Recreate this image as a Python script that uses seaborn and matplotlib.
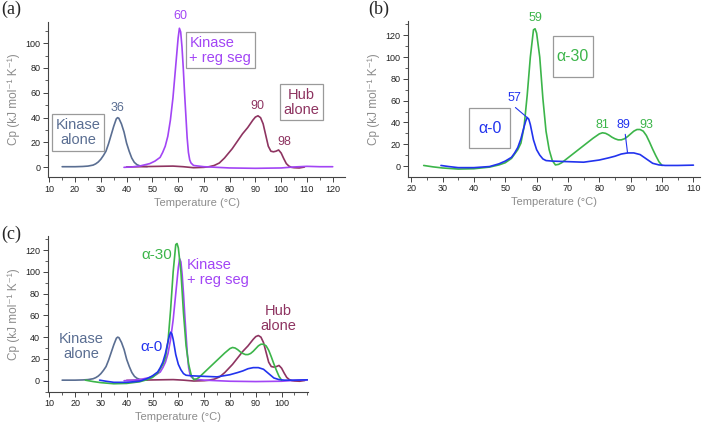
"""
DSC thermograms: kinase / hub constructs, three panels.
"""
import matplotlib
matplotlib.use("Agg")
import matplotlib.pyplot as plt
import matplotlib.patches as mpatches
from matplotlib.ticker import MultipleLocator
import numpy as np
import seaborn as sns

# ── data ────────────────────────────────────────────────────────────────────
kinase_t = [15, 20, 23, 25, 27, 28, 29, 30, 31, 32, 33, 34, 35, 36, 36.5, 37,
            38, 39, 40, 41, 42, 43, 44, 45, 46, 48]
kinase_cp = [0.5, 0.5, 0.7, 1.0, 1.8, 2.8, 4.3, 6.5, 9.5, 13, 19, 26, 33, 39,
             40, 39.5, 35, 28.5, 19.5, 13, 7.5, 4, 2.2, 1.3, 0.9, 0.6]

regseg_t = [39, 42, 45, 47, 49, 51, 53, 54, 55, 56, 57, 58, 59, 60, 60.5, 61,
            61.5, 62, 62.5, 63, 63.5, 64, 64.5, 65, 66, 68, 70, 75, 80, 90,
            100, 105, 110, 115, 120]
regseg_cp = [0, 0.3, 1, 2, 3, 5, 8, 12, 17, 25, 38, 56, 80, 104, 112, 109,
             97, 80, 60, 42, 24, 12, 6, 3.5, 1.5, 1, 0.5, 0, -0.5, -0.8,
             -0.5, 0.3, 0.8, 0.5, 0.5]

hub_t = [40, 45, 50, 55, 58, 62, 66, 70, 72, 74, 76, 78, 79, 80, 81, 82, 83,
         84, 85, 86, 87, 88, 89, 90, 91, 92, 93, 94, 95, 96, 97, 98, 99, 100,
         101, 102, 103, 104, 105, 107, 109]
hub_cp = [0.3, 0.5, 0.7, 0.9, 1.0, 0.5, -0.3, 0, 0.5, 1.5, 3.5, 7.5, 10,
          12.5, 15, 18, 21, 24, 27, 29.5, 32, 35, 38, 40.5, 41.5, 40, 35, 26,
          17, 13, 12.5, 13, 14, 11.5, 7, 3, 1, 0, -0.3, -0.5, 0.2]

a30_t = [24, 27, 30, 35, 40, 45, 48, 50, 52, 53, 54, 55, 56, 57, 58, 59, 59.5,
         60, 61, 62, 63, 64, 65, 66, 67, 68, 70, 72, 74, 76, 78, 80, 81, 82,
         83, 84, 85, 86, 87, 88, 89, 90, 91, 92, 93, 94, 95, 96, 97, 98, 99,
         100]
a30_cp = [0.5, -0.8, -1.8, -2.8, -2.5, -1, 1, 3, 7, 11, 15, 21, 36, 65, 100,
          125, 126, 122, 100, 62, 32, 15, 5, 1, 1.5, 3, 7.5, 12, 16.5, 21,
          25.5, 29.5, 30.5, 30, 28.5, 26.5, 25, 24, 24, 25, 27, 29.5, 32,
          33.5, 33.5, 32, 28, 22, 15.5, 9.5, 4, 0.5]

a0_t = [29.5, 32, 35, 40, 45, 48, 50, 52, 53, 54, 55, 56, 56.5, 57, 57.5, 58,
        59, 60, 61, 62, 63, 65, 70, 75, 80, 83, 85, 87, 89, 91, 93, 95, 97,
        99, 101, 105, 110]
a0_cp = [0.5, -0.5, -1.5, -1.5, -0.5, 2, 4.5, 8, 12, 17, 25, 36, 41, 44.5,
         43, 38, 24, 15, 10, 6.5, 5, 4.5, 4, 3.5, 5.5, 7.5, 9, 11, 12, 12,
         10.5, 6.5, 2.5, 1, 0.5, 0.5, 0.8]

C_KIN = "#5a6e92"
C_REG = "#a245f5"
C_HUB = "#8e3461"
C_A30 = "#3cb54a"
C_A0 = "#2233ee"
C_LBL = "#8c8c8c"
C_BOX = "#9a9a9a"

sns.set_theme(style="ticks")
plt.rcParams["font.family"] = ["Liberation Sans", "DejaVu Sans"]


def style_axes(ax, xlim, ylim, xmajor, ymax_label):
    ax.set_xlim(*xlim)
    ax.set_ylim(*ylim)
    ax.set_xticks(xmajor)
    ax.xaxis.set_minor_locator(MultipleLocator(5))
    ax.set_yticks(np.arange(0, ymax_label + 1, 20))
    ax.yaxis.set_minor_locator(MultipleLocator(10))
    sns.despine(ax=ax)
    for s in ("left", "bottom"):
        ax.spines[s].set_color("#444444")
        ax.spines[s].set_linewidth(0.8)
    ax.tick_params(which="major", length=3.5, width=0.7, labelsize=6.5,
                   colors="#444444", labelcolor="#222222", pad=2)
    ax.tick_params(which="minor", length=2, width=0.6, colors="#444444")
    ax.set_xlabel("Temperature (°C)", fontsize=8, color=C_LBL, labelpad=3)
    ax.set_ylabel("Cp (kJ mol⁻¹ K⁻¹)", fontsize=8.5, color=C_LBL, labelpad=4)


def curve(ax, t, cp, color):
    sns.lineplot(x=t, y=cp, ax=ax, color=color, lw=1.2, sort=False,
                 estimator=None, legend=False)


def boxed(ax, x, y, text, color, size=10.5, align="center"):
    ax.text(x, y, text, color=color, fontsize=size, ha="center", va="center",
            multialignment=align, linespacing=1.1, clip_on=False,
            bbox=dict(boxstyle="square,pad=0.25", fc="white", ec=C_BOX, lw=0.9))


fig = plt.figure(figsize=(7.09, 4.24), dpi=100)
ax_a = fig.add_axes([0.0677, 0.5825, 0.419, 0.3655])
ax_b = fig.add_axes([0.5755, 0.5833, 0.4118, 0.3679])
ax_c = fig.add_axes([0.0673, 0.0762, 0.367, 0.3672])

# ── (a) kinase alone, kinase + reg seg, hub alone ───────────────────────────
curve(ax_a, kinase_t, kinase_cp, C_KIN)
curve(ax_a, hub_t, hub_cp, C_HUB)
curve(ax_a, regseg_t, regseg_cp, C_REG)
style_axes(ax_a, (9.5, 124.8), (-7.8, 117), np.arange(10, 121, 10), 100)

boxed(ax_a, 21.3, 28, "Kinase\nalone", C_KIN)
boxed(ax_a, 76.4, 94.4, "Kinase\n+ reg seg", C_REG, align="left")
boxed(ax_a, 107.8, 52.5, "Hub\nalone", C_HUB)
ax_a.text(36.4, 48, "36", color=C_KIN, fontsize=9, ha="center", va="center")
ax_a.text(60.7, 121.6, "60", color=C_REG, fontsize=9, ha="center",
          va="center", clip_on=False)
ax_a.text(90.9, 49.6, "90", color=C_HUB, fontsize=9, ha="center", va="center")
ax_a.text(101.1, 20.2, "98", color=C_HUB, fontsize=9, ha="center", va="center")

# ── (b) alpha-0 and alpha-30 ────────────────────────────────────────────────
curve(ax_b, a30_t, a30_cp, C_A30)
curve(ax_b, a0_t, a0_cp, C_A0)
style_axes(ax_b, (19.0, 112.1), (-9.8, 133.4), np.arange(20, 111, 10), 120)

for cx, cy, w, h, txt, col in [(71.6, 100.4, 12.9, 37.9, "α-30", C_A30),
                               (45.1, 34.6, 13.0, 36.7, "α-0", C_A0)]:
    ax_b.add_patch(mpatches.Rectangle((cx - w / 2, cy - h / 2), w, h,
                                      fill=False, ec=C_BOX, lw=0.9))
    ax_b.text(cx, cy, txt, color=col, fontsize=11.5, ha="center", va="center")

ax_b.text(59.5, 135.6, "59", color=C_A30, fontsize=9, ha="center",
          va="center", clip_on=False)
ax_b.text(81, 37.6, "81", color=C_A30, fontsize=9, ha="center", va="center")
ax_b.text(94.9, 37.6, "93", color=C_A30, fontsize=9, ha="center", va="center")
i57 = int(np.argmax(a0_cp))
ax_b.annotate("57", xy=(a0_t[i57], a0_cp[i57]), xytext=(52.9, 62.2),
              color=C_A0, fontsize=9, ha="center", va="center",
              arrowprops=dict(arrowstyle="-", color=C_A0, lw=0.8,
                              shrinkA=0, shrinkB=0, relpos=(0.3, 0.0)))
i89 = a0_t.index(89)
ax_b.annotate("89", xy=(a0_t[i89], a0_cp[i89]), xytext=(87.7, 37.6),
              color=C_A0, fontsize=9, ha="center", va="center",
              arrowprops=dict(arrowstyle="-", color=C_A0, lw=0.8,
                              shrinkA=0, shrinkB=0, relpos=(0.6, 0.0)))

# ── (c) overlay of all constructs ───────────────────────────────────────────
curve(ax_c, kinase_t, kinase_cp, C_KIN)
curve(ax_c, hub_t, hub_cp, C_HUB)
curve(ax_c, regseg_t, regseg_cp, C_REG)
curve(ax_c, a30_t, a30_cp, C_A30)
curve(ax_c, a0_t, a0_cp, C_A0)
style_axes(ax_c, (9.4, 110.2), (-10.1, 132.9), np.arange(10, 101, 10), 120)

ax_c.text(51.6, 115.4, "α-30", color=C_A30, fontsize=11, ha="center", va="center")
ax_c.text(63.2, 99.4, "Kinase\n+ reg seg", color=C_REG, fontsize=10.5,
          ha="left", va="center", linespacing=1.1)
ax_c.text(98.7, 57.3, "Hub\nalone", color=C_HUB, fontsize=10.5, ha="center",
          va="center", linespacing=1.1)
ax_c.text(22.5, 31.2, "Kinase\nalone", color=C_KIN, fontsize=10.5, ha="center",
          va="center", linespacing=1.1)
ax_c.text(49.7, 31.2, "α-0", color=C_A0, fontsize=11, ha="center", va="center")

# panel tags
for x, y, tag in [(0.002, 0.998, "(a)"), (0.519, 0.998, "(b)"),
                  (0.002, 0.468, "(c)")]:
    fig.text(x, y, tag, fontsize=13, family="Liberation Serif",
             ha="left", va="top")

fig.savefig("out.png", dpi=100)
